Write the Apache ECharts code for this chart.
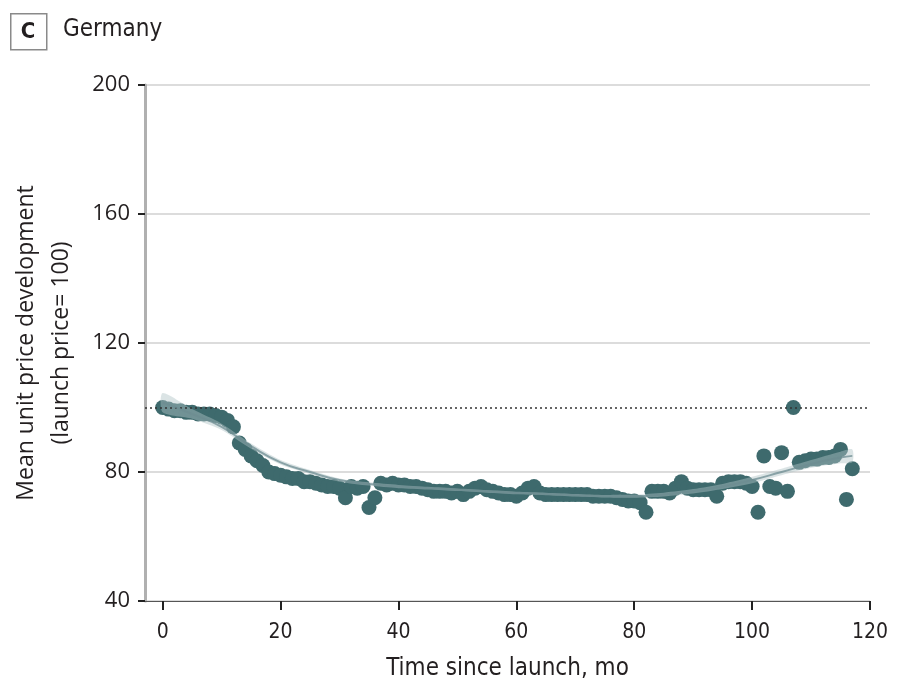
<!DOCTYPE html>
<html>
<head>
<meta charset="utf-8">
<script src="https://cdn.jsdelivr.net/npm/echarts@6/dist/echarts.min.js"></script>
<style>
  html, body { margin: 0; padding: 0; background: #fff; }
  #chart { width: 903px; height: 691px; }
</style>
</head>
<body>
<div id="chart"></div>
<script>
// Monthly mean unit price index, Germany (launch price = 100), months 0..117
const months = [];
for (let m = 0; m <= 117; m++) months.push(m);
const price = [
  100, 99.5, 99, 99, 98.5, 98.5, 98, 98, 98, 97.5,
  97, 96, 94, 89, 87, 85, 83.5, 82, 80, 79.5,
  79, 78.5, 78, 78, 77, 77, 76.5, 76, 75.5, 75.5,
  75, 72, 75.5, 75, 75.5, 69, 72, 76.5, 76, 76.5,
  76, 76, 75.5, 75.5, 75, 74.5, 74, 74, 74, 73.5,
  74, 73, 74, 75, 75.5, 74.5, 74, 73.5, 73, 73,
  72.5, 73.5, 75, 75.5, 73.5, 73, 73, 73, 73, 73,
  73, 73, 73, 72.5, 72.5, 72.5, 72.5, 72, 71.5, 71,
  71, 70.5, 67.5, 74, 74, 74, 73.5, 75, 77, 75,
  74.5, 74.5, 74.5, 74.5, 72.5, 76.5, 77, 77, 77, 76.5,
  75.5, 67.5, 85, 75.5, 75, 86, 74, 100, 83, 83.5,
  84, 84, 84.5, 84.5, 85, 87, 71.5, 81
];

// Smoothed trend with its confidence band
const fitMonths = [0, 5, 10, 15, 20, 25, 30, 35, 40, 45, 50, 55, 60, 65, 70, 75, 80, 85, 90, 95, 100, 105, 110, 115, 117];
const fitValue  = [101.5, 98, 94, 88, 83, 80, 77.5, 76.3, 75.5, 75, 74.5, 74, 73.5, 73.2, 72.8, 72.5, 72.5, 73, 74, 75.5, 77.5, 80, 82.5, 84.5, 85];
const fitLow    = [98.5, 96.5, 93, 87.2, 82.3, 79.4, 77, 75.8, 75, 74.6, 74.1, 73.6, 73.1, 72.8, 72.4, 72.1, 72, 72.4, 73.3, 74.7, 76.5, 79, 81.3, 82.7, 83];
const fitHigh   = [104.5, 99.5, 95, 88.8, 83.7, 80.6, 78, 76.8, 76, 75.4, 74.9, 74.4, 73.9, 73.6, 73.2, 72.9, 73, 73.6, 74.7, 76.3, 78.5, 81, 83.7, 86.3, 87];

const yTicks = [40, 80, 120, 160, 200];
const xTicks = [0, 20, 40, 60, 80, 100, 120];

const textColor = '#231f20';
const markColor = '#3e6a6d';
const narrow = '"Liberation Sans Narrow", "DejaVu Sans Condensed", "Open Sans", sans-serif';

const chart = echarts.init(document.getElementById('chart'), null, { renderer: 'canvas' });

const pts = months.map((m, i) => [m, price[i]]);
const fitLine = fitMonths.map((m, i) => [m, fitValue[i]]);

// confidence band drawn as a single smoothed polygon through the axis scales
function renderBand(params, api) {
  const upper = fitMonths.map((m, i) => api.coord([m, fitHigh[i]]));
  const lower = fitMonths.map((m, i) => api.coord([m, fitLow[i]])).reverse();
  return {
    type: 'polygon',
    shape: { points: upper.concat(lower), smooth: 0.25 },
    style: { fill: 'rgba(175, 195, 198, 0.45)' },
    z2: 1
  };
}

chart.setOption({
  animation: false,
  backgroundColor: '#ffffff',
  graphic: [
    { type: 'rect', left: 10, top: 13, shape: { width: 36, height: 36 },
      style: { fill: '#fff', stroke: '#8a8a8a', lineWidth: 1.5 } },
    { type: 'text', x: 28, y: 32,
      style: { text: 'C', font: 'bold 22px ' + narrow, fill: textColor, textAlign: 'center', textVerticalAlign: 'middle' } },
    { type: 'text', left: 63, top: 18,
      style: { text: 'Germany', font: '24px ' + narrow, fill: textColor } }
  ],
  grid: { left: 145, right: 33, top: 85, bottom: 90, containLabel: false, outerBoundsMode: 'none' },
  xAxis: {
    type: 'value',
    min: -3,
    max: 120,
    name: 'Time since launch, mo',
    nameLocation: 'middle',
    nameGap: 56,
    nameTextStyle: { fontFamily: narrow, fontSize: 24, color: textColor },
    axisLine: { show: true, onZero: false, lineStyle: { color: '#555', width: 1.2 } },
    axisTick: { show: true, length: 9, customValues: xTicks, lineStyle: { color: '#222', width: 2 } },
    axisLabel: { customValues: xTicks, fontFamily: narrow, fontSize: 21, color: textColor, margin: 21 },
    splitLine: { show: false }
  },
  yAxis: {
    type: 'value',
    min: 40,
    max: 200,
    interval: 40,
    name: 'Mean unit price development\n(launch price= 100)',
    nameLocation: 'middle',
    nameGap: 66,
    nameRotate: 90,
    nameTextStyle: { fontFamily: '"Open Sans", sans-serif', fontSize: 23, color: textColor, lineHeight: 35 },
    axisLine: { show: true, onZero: false, lineStyle: { color: '#b0b0b0', width: 3 } },
    axisTick: { show: true, length: 7, lineStyle: { color: '#222', width: 2 } },
    axisLabel: { fontFamily: '"Open Sans", sans-serif', fontSize: 22, color: textColor, margin: 15 },
    splitLine: { show: true, lineStyle: { color: '#dcdcdc', width: 2 } }
  },
  series: [
    {
      type: 'scatter',
      data: pts,
      symbol: 'circle',
      symbolSize: 15,
      itemStyle: { color: markColor, opacity: 1 },
      z: 3,
      markLine: {
        silent: true,
        symbol: 'none',
        label: { show: false },
        lineStyle: { type: [2, 3], color: '#333', width: 1.5 },
        data: [{ yAxis: 100 }]
      }
    },
    {
      type: 'custom',
      renderItem: renderBand,
      data: [0],
      silent: true,
      z: 4
    },
    {
      type: 'line',
      data: fitLine,
      smooth: true,
      symbol: 'none',
      lineStyle: { color: 'rgba(110, 140, 145, 0.75)', width: 2 },
      z: 5
    }
  ]
});
</script>
</body>
</html>
